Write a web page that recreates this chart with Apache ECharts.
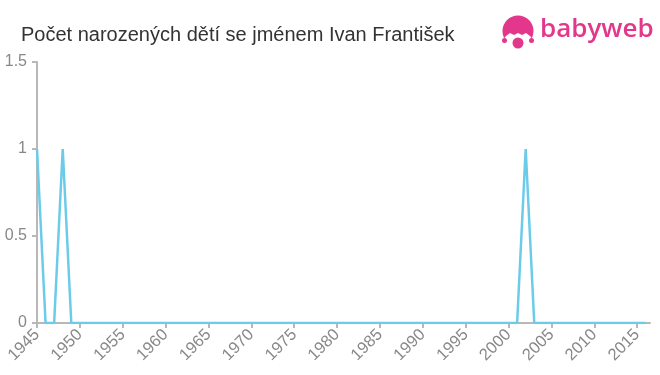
<!DOCTYPE html>
<html>
<head>
<meta charset="utf-8">
<script src="https://cdn.jsdelivr.net/npm/echarts@6/dist/echarts.min.js"></script>
<style>html,body{margin:0;padding:0;background:#fff}#c{width:660px;height:375px}</style>
</head>
<body>
<div id="c"></div>
<script>
const titleText = 'Počet narozených dětí se jménem Ivan František';
const years = [];
for (let y = 1945; y <= 2016; y++) years.push(y);
const nonZero = {1945: 1, 1948: 1, 2002: 1};
const counts = years.map(y => nonZero[y] || 0);
const xTicks = [1945,1950,1955,1960,1965,1970,1975,1980,1985,1990,1995,2000,2005,2010,2015];

const pink = '#e2378b';
const font = '"Liberation Sans", Arial, sans-serif';
const chart = echarts.init(document.getElementById('c'));
chart.setOption({
  animation: false,
  title: {
    text: titleText, left: 16, top: 20,
    textStyle: {fontFamily: font, fontSize: 20, fontWeight: 'normal', color: '#333'}
  },
  grid: {left: 37, right: 10, top: 62, bottom: 52},
  xAxis: {
    type: 'value', min: 1945, max: 2016.5,
    axisLine: {lineStyle: {color: '#b8b8b8', width: 2}},
    axisTick: {customValues: xTicks, length: 5, lineStyle: {color: '#b8b8b8', width: 2}},
    axisLabel: {customValues: xTicks, rotate: 45, color: '#888', fontSize: 16.5, fontFamily: font, margin: 9,
      formatter: v => String(v)},
    splitLine: {show: false}
  },
  yAxis: {
    type: 'value', min: 0, max: 1.5, interval: 0.5,
    axisLine: {show: true, lineStyle: {color: '#b8b8b8', width: 2}},
    axisTick: {show: true, length: 5, lineStyle: {color: '#b8b8b8', width: 2}},
    axisLabel: {color: '#888', fontSize: 16, fontFamily: font, margin: 10},
    splitLine: {show: false}
  },
  series: [{
    type: 'line',
    data: years.map((y, i) => [y, counts[i]]),
    showSymbol: false,
    lineStyle: {color: '#6dcbea', width: 2.5},
    itemStyle: {color: '#6dcbea'}
  }],
  graphic: [
    {type: 'circle', shape: {cx: 518, cy: 31, r: 15.5}, style: {fill: pink}},
    {type: 'polygon', shape: {points: [[502,41],[506,36],[510,33],[514,35],[518,33],[522,35],[526,33],[530,36],[534,41],[534,50],[502,50]]}, style: {fill: '#fff'}},
    {type: 'circle', shape: {cx: 504.5, cy: 40.5, r: 2.5}, style: {fill: pink}},
    {type: 'circle', shape: {cx: 531.5, cy: 40.5, r: 2.5}, style: {fill: pink}},
    {type: 'circle', shape: {cx: 518, cy: 43, r: 5.5}, style: {fill: pink}},
    {type: 'text', x: 540, y: 17, style: {text: 'babyweb', fill: pink, font: '600 26px "Open Sans", Roboto, sans-serif'}}
  ]
});
</script>
</body>
</html>
